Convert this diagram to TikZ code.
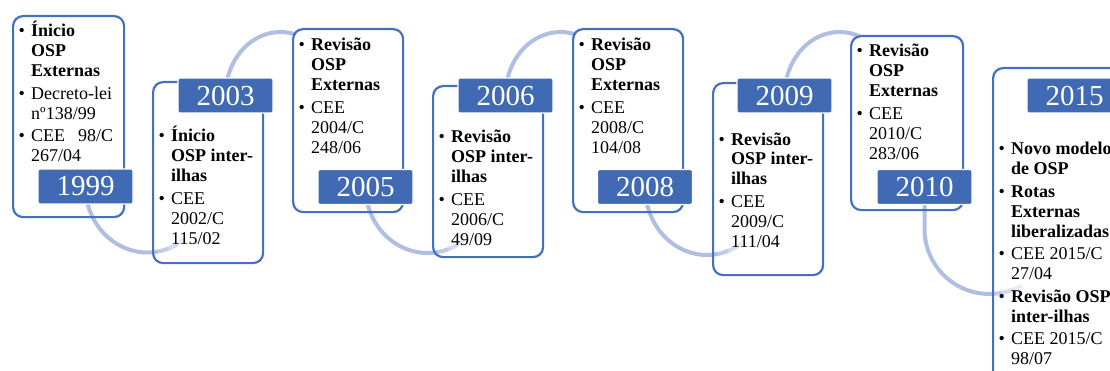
\documentclass[tikz,border=0pt]{standalone}
\usepackage{fontspec}
\setmainfont{Liberation Serif}
\usetikzlibrary{backgrounds}
\definecolor{boxblue}{RGB}{68,112,192}
\definecolor{labblue}{RGB}{64,106,180}
\definecolor{arcblue}{RGB}{176,190,226}
\newcommand\bul{\textbullet}
\tikzset{
  ebox/.style={draw=boxblue, line width=2.2pt, rounded corners=10pt, anchor=north west, inner sep=0pt, minimum width=110pt},
  ylab/.style={fill=labblue, draw=white, line width=1.2pt, rounded corners=1.5pt, minimum width=95pt, minimum height=35pt, text=white, font=\fontsize{29}{29}\selectfont, inner sep=0pt},
  btext/.style={anchor=base west, inner sep=0pt, font=\fontsize{18}{20}\selectfont},
  conn/.style={draw=arcblue, line width=4pt},
}
\begin{document}
\begin{tikzpicture}[x=1pt,y=1pt]
\useasboundingbox (0,0) rectangle (1110,370);
\clip (0,0) rectangle (1110,370);

% boxes
\node[ebox, minimum width=111pt, minimum height=201pt] (b1999) at (12,355) {};
\node[ebox, minimum height=181pt] (b2003) at (152,289) {};
\node[ebox, minimum height=183pt] (b2005) at (292,342) {};
\node[ebox, minimum height=171pt] (b2006) at (432,285) {};
\node[ebox, minimum height=183pt] (b2008) at (572,342) {};
\node[ebox, minimum height=192pt] (b2009) at (712,288) {};
\node[ebox, minimum width=112pt, minimum height=174pt] (b2010) at (850,335) {};
\node[ebox, minimum width=200pt, minimum height=400pt] (b2015) at (992,303) {};

% year labels
\node[ylab] (y1999) at (85.5,183.5) {1999};
\node[ylab] (y2003) at (225.5,274.5) {2003};
\node[ylab] (y2005) at (365.5,183) {2005};
\node[ylab] (y2006) at (505.5,274.5) {2006};
\node[ylab] (y2008) at (645,183) {2008};
\node[ylab] (y2009) at (784.5,274.5) {2009};
\node[ylab] (y2010) at (924.5,183) {2010};
\node[ylab] (y2015) at (1074.5,274.5) {2015};

% texts
\node[btext] (t1999) at (18.5,333) {\begin{tabular}[t]{@{}l@{\hspace{6.2pt}}l@{}}
\bul & \textbf{Ínicio}\\ & \textbf{OSP}\\ & \textbf{Externas}\\[2.5pt]
\bul & Decreto-lei\\ & nº138/99\\[2.5pt]
\bul & CEE\hspace{13pt}98/C\\ & 267/04
\end{tabular}};
\node[btext] (t2003) at (158.5,228) {\begin{tabular}[t]{@{}l@{\hspace{6.2pt}}l@{}}
\bul & \textbf{Ínicio}\\ & \textbf{OSP inter-}\\ & \textbf{ilhas}\\[2.5pt]
\bul & CEE\\ & 2002/C\\ & 115/02
\end{tabular}};
\node[btext] (t2005) at (298.5,319) {\begin{tabular}[t]{@{}l@{\hspace{6.2pt}}l@{}}
\bul & \textbf{Revisão}\\ & \textbf{OSP}\\ & \textbf{Externas}\\[2.5pt]
\bul & CEE\\ & 2004/C\\ & 248/06
\end{tabular}};
\node[btext] (t2006) at (438.5,227) {\begin{tabular}[t]{@{}l@{\hspace{6.2pt}}l@{}}
\bul & \textbf{Revisão}\\ & \textbf{OSP inter-}\\ & \textbf{ilhas}\\[2.5pt]
\bul & CEE\\ & 2006/C\\ & 49/09
\end{tabular}};
\node[btext] (t2008) at (578.5,319) {\begin{tabular}[t]{@{}l@{\hspace{6.2pt}}l@{}}
\bul & \textbf{Revisão}\\ & \textbf{OSP}\\ & \textbf{Externas}\\[2.5pt]
\bul & CEE\\ & 2008/C\\ & 104/08
\end{tabular}};
\node[btext] (t2009) at (718.5,225) {\begin{tabular}[t]{@{}l@{\hspace{6.2pt}}l@{}}
\bul & \textbf{Revisão}\\ & \textbf{OSP inter-}\\ & \textbf{ilhas}\\[2.5pt]
\bul & CEE\\ & 2009/C\\ & 111/04
\end{tabular}};
\node[btext] (t2010) at (856.5,313) {\begin{tabular}[t]{@{}l@{\hspace{6.2pt}}l@{}}
\bul & \textbf{Revisão}\\ & \textbf{OSP}\\ & \textbf{Externas}\\[2.5pt]
\bul & CEE\\ & 2010/C\\ & 283/06
\end{tabular}};
\node[btext] (t2015) at (998.5,215) {\begin{tabular}[t]{@{}l@{\hspace{6.2pt}}l@{}}
\bul & \textbf{Novo modelo}\\ & \textbf{de OSP}\\[2.5pt]
\bul & \textbf{Rotas}\\ & \textbf{Externas}\\ & \textbf{liberalizadas}\\[2.5pt]
\bul & CEE 2015/C\\ & 27/04\\[2.5pt]
\bul & \textbf{Revisão OSP}\\ & \textbf{inter-ilhas}\\[2.5pt]
\bul & CEE 2015/C\\ & 98/07
\end{tabular}};

\begin{pgfonlayer}{background}
% lower arcs
\foreach \lab/\yr in {y1999/66, y2005/66, y2008/68}{
  \draw[conn] (\lab.center) arc[start angle=180,end angle=280,x radius=62,y radius=\yr] coordinate (p1);
  \draw[conn, draw opacity=.8] (p1) arc[start angle=280,end angle=290,x radius=62,y radius=\yr] coordinate (p2);
  \draw[conn, draw opacity=.55] (p2) arc[start angle=290,end angle=299,x radius=62,y radius=\yr] coordinate (p3);
  \draw[conn, draw opacity=.3] (p3) arc[start angle=299,end angle=307,x radius=62,y radius=\yr];
}
\draw[conn] (y2010.center) -- ++(0,-42) arc[start angle=180,end angle=272,radius=65] coordinate (q1);
\draw[conn, draw opacity=.8] (q1) arc[start angle=272,end angle=281,radius=65] coordinate (q2);
\draw[conn, draw opacity=.55] (q2) arc[start angle=281,end angle=290,radius=65] coordinate (q3);
\draw[conn, draw opacity=.3] (q3) arc[start angle=290,end angle=300,radius=65];
% upper arcs
\draw[conn] (y2003.center) arc[start angle=180,end angle=74,x radius=55,y radius=63.5];
\draw[conn] (y2006.center) arc[start angle=180,end angle=74,x radius=55,y radius=63.5];
\draw[conn] (y2009.center) arc[start angle=180,end angle=68,x radius=55,y radius=63.5];
\end{pgfonlayer}
\end{tikzpicture}
\end{document}
